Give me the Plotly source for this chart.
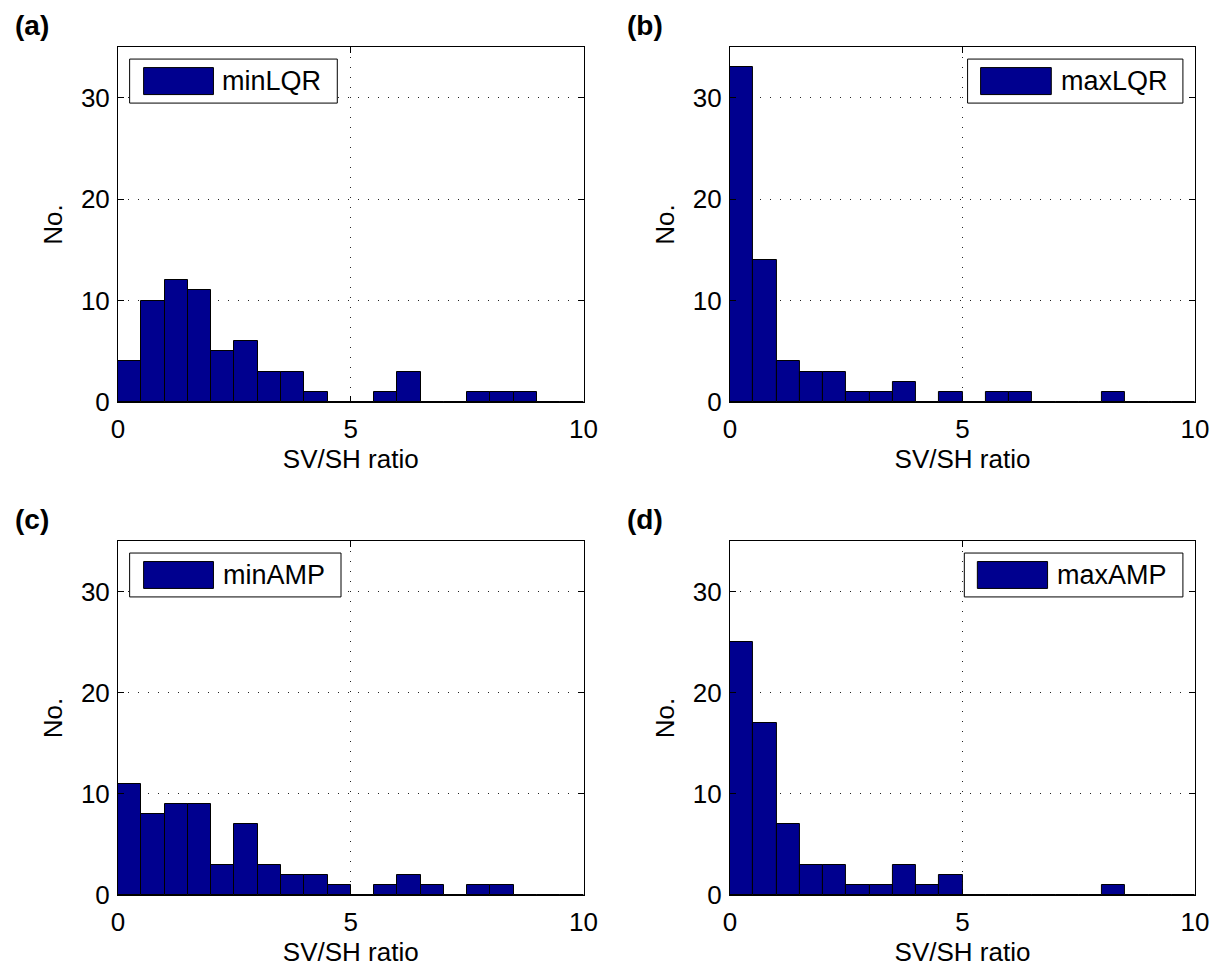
import numpy as np
import plotly.graph_objects as go

# ---- data: counts per 0.5-wide bin of SV/SH ratio, bins from 0 to 10 ----
bin_start = 0.0
bin_width = 0.5
n_bins = 20

min_lqr = [4, 10, 12, 11, 5, 6, 3, 3, 1, 0, 0, 1, 3, 0, 0, 1, 1, 1, 0, 0]
max_lqr = [33, 14, 4, 3, 3, 1, 1, 2, 0, 1, 0, 1, 1, 0, 0, 0, 1, 0, 0, 0]
min_amp = [11, 8, 9, 9, 3, 7, 3, 2, 2, 1, 0, 1, 2, 1, 0, 1, 1, 0, 0, 0]
max_amp = [25, 17, 7, 3, 3, 1, 1, 3, 1, 2, 0, 0, 0, 0, 0, 0, 1, 0, 0, 0]

series_names = ["minLQR", "maxLQR", "minAMP", "maxAMP"]
panel_labels = ["(a)", "(b)", "(c)", "(d)"]
x_title = "SV/SH ratio"
y_title = "No."
x_ticks = [0, 5, 10]
y_ticks = [0, 10, 20, 30]

series = [min_lqr, max_lqr, min_amp, max_amp]
centers = bin_start + bin_width * (np.arange(n_bins) + 0.5)

FONT = "Liberation Sans, Arial, Helvetica, sans-serif"
FS = 26
BAR = "#00008F"

W, H = 1224, 970
ML, MR, MT, MB = 117.5, 28.5, 47, 75
pw = W - ML - MR
ph = H - MT - MB

def xd(a, b):
    return [(a - ML) / pw, (b - ML) / pw]

def yd(top, bottom):
    return [(H - MB - bottom) / ph, (H - MB - top) / ph]

domains = [
    (xd(117.5, 583.5), yd(47, 402)),
    (xd(730, 1195.5), yd(47, 402)),
    (xd(117.5, 583.5), yd(541, 895)),
    (xd(730, 1195.5), yd(541, 895)),
]

fig = go.Figure()
layout = dict(
    width=W, height=H,
    margin=dict(l=ML, r=MR, t=MT, b=MB),
    paper_bgcolor="white", plot_bgcolor="white",
    showlegend=False,
    font=dict(family=FONT, size=FS, color="black"),
    bargap=0,
)

# legend geometry per panel (in axis-domain fractions): box x0,x1, patch x0,x1, text x
leg = [
    dict(bx=(0.025, 0.471), px=(0.055, 0.205), tx=0.219),
    dict(bx=(0.511, 0.974), px=(0.539, 0.691), tx=0.707),
    dict(bx=(0.025, 0.479), px=(0.055, 0.205), tx=0.221),
    dict(bx=(0.504, 0.974), px=(0.532, 0.683), tx=0.700),
]

shapes = []
annotations = []
for i, (vals, name) in enumerate(zip(series, series_names)):
    k = "" if i == 0 else str(i + 1)
    xa, ya = "x" + k, "y" + k
    fig.add_trace(go.Bar(
        x=centers, y=vals, width=bin_width, name=name,
        marker=dict(color=BAR, line=dict(color="black", width=1)),
        xaxis=xa, yaxis=ya,
    ))
    xdom, ydom = domains[i]
    axis_common = dict(
        showline=True, linecolor="black", linewidth=1, mirror="ticks",
        ticks="inside", ticklen=6, tickcolor="black", tickwidth=1,
        showgrid=True, gridcolor="#222222", gridwidth=1, griddash="1px,9px",
        zeroline=False,
        tickfont=dict(family=FONT, size=FS, color="black"),
    )
    layout["xaxis" + k] = dict(
        axis_common, domain=xdom, range=[0, 10], tickvals=x_ticks,
        anchor=ya, ticklabelstandoff=4,
        title=dict(text=x_title, font=dict(family=FONT, size=FS), standoff=4),
    )
    layout["yaxis" + k] = dict(
        axis_common, domain=ydom, range=[0, 35], tickvals=y_ticks,
        anchor=xa, ticklabelstandoff=2,
        title=dict(text=y_title, font=dict(family=FONT, size=FS), standoff=10),
    )
    # legend box drawn inside the axes
    L = leg[i]
    xr, yr = xa + " domain", ya + " domain"
    shapes.append(dict(type="rect", xref=xr, yref=yr,
                       x0=L["bx"][0], x1=L["bx"][1], y0=0.842, y1=0.966,
                       line=dict(color="black", width=1), fillcolor="white", layer="above"))
    shapes.append(dict(type="rect", xref=xr, yref=yr,
                       x0=L["px"][0], x1=L["px"][1], y0=0.866, y1=0.942,
                       line=dict(color="black", width=1), fillcolor=BAR, layer="above"))
    annotations.append(dict(text=name, xref=xr, yref=yr, x=L["tx"], y=0.904,
                            xanchor="left", yanchor="middle", showarrow=False,
                            font=dict(family=FONT, size=27, color="black")))
    # panel label
    annotations.append(dict(text="<b>" + panel_labels[i] + "</b>",
                            xref=xr, yref="paper",
                            x=(12 - 117.5) / 466 if i % 2 == 0 else (624.5 - 730) / 465.5,
                            y=(H - MB - (26 if i < 2 else 519)) / ph,
                            xanchor="left", yanchor="middle", showarrow=False,
                            font=dict(family=FONT, size=28, color="black")))

layout["shapes"] = shapes
layout["annotations"] = annotations
fig.update_layout(**layout)
fig.write_html("out.html")
